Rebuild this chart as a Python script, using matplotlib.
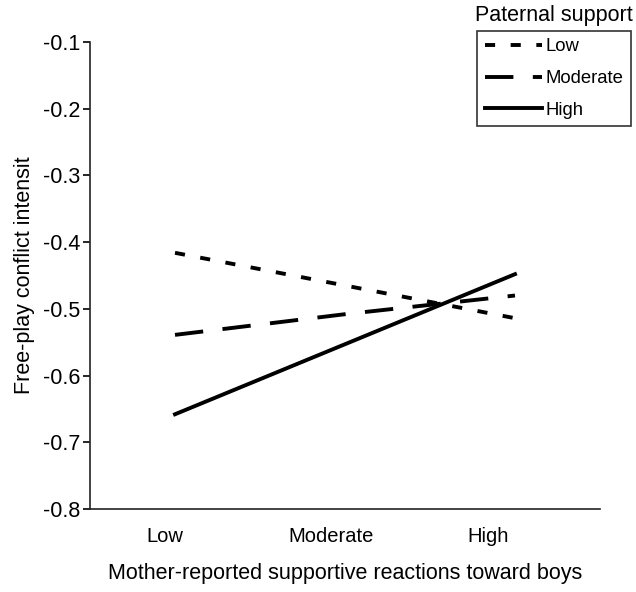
import matplotlib
matplotlib.use('Agg')
import matplotlib.pyplot as plt

plt.rcParams['font.family'] = ['Liberation Sans', 'DejaVu Sans']

# data
categories = ['Low', 'Moderate', 'High']
series_names = ['Low', 'Moderate', 'High']
low_support = [-0.416, -0.465, -0.514]
moderate_support = [-0.539, -0.508, -0.480]
high_support = [-0.658, -0.553, -0.448]
yticks = [-0.8, -0.7, -0.6, -0.5, -0.4, -0.3, -0.2, -0.1]

# category labels sit a bit left of the points in the original
label_pos = [0.94, 1.92, 2.84]

fig = plt.figure(figsize=(6.36, 5.92), dpi=100)
ax = fig.add_axes([90/636, 1 - 509/592, 510/636, 467/592])

x = range(1, len(categories) + 1)
lw = 2.8
ax.plot(x, low_support, color='black', lw=lw, dashes=(2.6, 4.0), label=series_names[0])
ax.plot(x, moderate_support, color='black', lw=lw, dashes=(7.3, 5.0), label=series_names[1])
ax.plot(x, high_support, color='black', lw=lw, label=series_names[2])

ax.set_xlim(0.5, 3.5)
ax.set_ylim(-0.8, -0.1)
ax.set_yticks(yticks)
ax.set_yticklabels(['%g' % t for t in yticks])
ax.set_xticks(label_pos)
ax.set_xticklabels(categories)

for s in ['top', 'right']:
    ax.spines[s].set_visible(False)
for s in ['left', 'bottom']:
    ax.spines[s].set_linewidth(1.2)
    ax.spines[s].set_color('#222222')

ax.tick_params(axis='y', direction='out', length=5, width=1.2, pad=2, labelsize=15.5)
ax.tick_params(axis='x', length=0, pad=13, labelsize=14.5)

ax.set_ylabel('Free-play conflict intensit', fontsize=15.5, labelpad=6)
ax.set_xlabel('Mother-reported supportive reactions toward boys', fontsize=15.5, labelpad=12)

leg = fig.legend(loc='upper right', bbox_to_anchor=(631/636, 1 - 31/592),
                 bbox_transform=fig.transFigure, fontsize=13.3, frameon=True,
                 fancybox=False, borderaxespad=0, handlelength=3.1,
                 handletextpad=0.2, labelspacing=0.8, borderpad=0.4)
leg.get_frame().set_edgecolor('black')
leg.get_frame().set_linewidth(1.2)

fig.text(554/636, 1 - 15/592, 'Paternal support', ha='center', va='center', fontsize=15.5)

fig.savefig('out.png', dpi=100)
